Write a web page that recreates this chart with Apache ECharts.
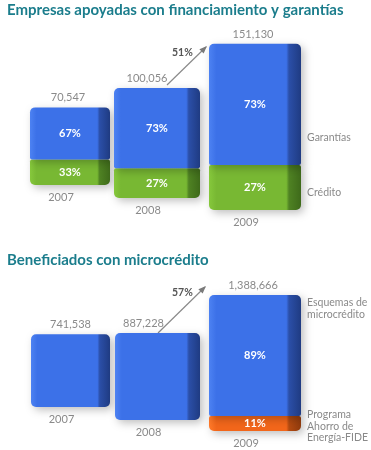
<!DOCTYPE html>
<html><head><meta charset="utf-8">
<script src="https://cdn.jsdelivr.net/npm/echarts@6/dist/echarts.min.js"></script>
<style>html,body{margin:0;padding:0;background:#fff}#c{width:371px;height:450px}</style>
</head><body><div id="c"></div>
<script>
// ---- data ----
const years = ['2007', '2008', '2009'];
const empresasTotal = [70547, 100056, 151130];
const garantiasPct = [67, 73, 73];
const creditoPct = [33, 27, 27];
const microTotal = [741538, 887228, 1388666];
const esquemasPct = [100, 100, 89];
const fidePct = [0, 0, 11];
const growthLabels = ['51%', '57%'];
const titles = ['Empresas apoyadas con financiamiento y garantías', 'Beneficiados con microcrédito'];

// ---- layout ----
const FONT = 'Lato';
const layout = [
  [[30, 80, 185], [114, 86, 198], [209, 92, 210]],
  [[31, 79, 407], [115, 85, 420], [209, 92, 431]]
];
const labelShift = [[-2, -10, -2], [0, -14, -2]];
const axisMax = [160000, 1500000];
const axisPx = [176, 147];

function grad(light, mid, dark, darker) {
  return new echarts.graphic.LinearGradient(0, 0, 1, 0, [
    { offset: 0, color: light }, { offset: 0.08, color: mid }, { offset: 0.84, color: mid },
    { offset: 0.87, color: dark }, { offset: 1, color: darker }
  ]);
}
const blue = grad('#4d82f2', '#3c71e8', '#2b4fa8', '#1f3b82');
const green = grad('#86c83c', '#78b833', '#4f8223', '#3e6a1a');
const orange = grad('#ff7a2a', '#f2661a', '#b34a10', '#8f3a0c');

const grids = [], xAxes = [], yAxes = [], series = [];
const fmt = v => v.toLocaleString('en-US');

for (let c = 0; c < 2; c++) {
  const totals = c === 0 ? empresasTotal : microTotal;
  const topPct = c === 0 ? garantiasPct : esquemasPct;
  const botPct = c === 0 ? creditoPct : fidePct;
  const botColor = c === 0 ? green : orange;
  for (let i = 0; i < 3; i++) {
    const [left, width, base] = layout[c][i];
    const g = grids.length;
    grids.push({ left: left, width: width, top: base - axisPx[c], height: axisPx[c] });
    xAxes.push({ gridIndex: g, type: 'category', data: [years[i]],
      axisLine: { show: false }, axisTick: { show: false },
      axisLabel: { color: '#8a8a8a', fontFamily: FONT, fontSize: 11, margin: 7, padding: [0, 18, 0, 0] } });
    yAxes.push({ gridIndex: g, type: 'value', min: 0, max: axisMax[c], show: false, splitLine: { show: false } });
    const botVal = totals[i] * botPct[i] / 100;
    const topVal = totals[i] * topPct[i] / 100;
    const breakdown = botPct[i] > 0;
    series.push({
      type: 'bar', xAxisIndex: g, yAxisIndex: g, stack: 's' + g, barWidth: '100%',
      data: [botVal], silent: true,
      itemStyle: { color: botColor, borderRadius: [2, 2, 5, 5],
        shadowColor: 'rgba(0,0,0,0.25)', shadowBlur: 8, shadowOffsetX: 3, shadowOffsetY: 3 },
      label: { show: breakdown, position: 'inside', formatter: botPct[i] + '%',
        color: '#fff', fontFamily: FONT, fontWeight: 'bold', fontSize: 11 }
    });
    series.push({
      type: 'bar', xAxisIndex: g, yAxisIndex: g, stack: 's' + g, barWidth: '100%',
      data: [topVal], silent: true,
      itemStyle: { color: blue, borderRadius: breakdown ? [5, 5, 2, 2] : 5,
        shadowColor: 'rgba(0,0,0,0.25)', shadowBlur: 8, shadowOffsetX: 3, shadowOffsetY: 3 },
      label: { show: breakdown, position: 'inside', formatter: topPct[i] + '%',
        color: '#fff', fontFamily: FONT, fontWeight: 'bold', fontSize: 11 }
    });
    // total label on top
    series.push({
      type: 'bar', xAxisIndex: g, yAxisIndex: g, stack: 's' + g, barWidth: '100%',
      data: [0], silent: true, itemStyle: { color: 'transparent' },
      label: { show: true, position: 'top', distance: 4, offset: [labelShift[c][i], 0], formatter: fmt(totals[i]),
        color: '#8a8a8a', fontFamily: FONT, fontSize: 11 }
    });
  }
}

const gray = '#8a8a8a';
const txt = (left, top, text, extra) => Object.assign({ type: 'text', left: left, top: top,
  style: Object.assign({ text: text, fill: gray, font: '10.5px ' + FONT, lineHeight: 11.5 }, extra || {}) });

function arrow(x1, y1, x2, y2) {
  const a = Math.atan2(y2 - y1, x2 - x1), L = 7, w = 0.45;
  return [
    { type: 'line', shape: { x1: x1, y1: y1, x2: x2, y2: y2 }, style: { stroke: '#8a8a8a', lineWidth: 1.2 } },
    { type: 'polygon', shape: { points: [[x2 + 1, y2 - 1],
      [x2 - L * Math.cos(a - w), y2 - L * Math.sin(a - w)],
      [x2 - L * Math.cos(a + w), y2 - L * Math.sin(a + w)]] }, style: { fill: '#7a7a7a' } }
  ];
}

const option = {
  animation: false,
  title: [
    { text: titles[0], left: 2, top: -2, textStyle: { color: '#1b7d8c', fontFamily: FONT, fontWeight: 'bold', fontSize: 15 } },
    { text: titles[1], left: 2, top: 248, textStyle: { color: '#1b7d8c', fontFamily: FONT, fontWeight: 'bold', fontSize: 15 } }
  ],
  grid: grids, xAxis: xAxes, yAxis: yAxes, series: series,
  graphic: [
    txt(307, 132, 'Garantías'),
    txt(307, 187, 'Crédito'),
    txt(307, 297, 'Esquemas de\nmicrocrédito'),
    txt(307, 409, 'Programa\nAhorro de\nEnergía-FIDE'),
    txt(172, 47, growthLabels[0], { fill: '#555', font: 'bold 10.5px ' + FONT }),
    txt(172, 287, growthLabels[1], { fill: '#555', font: 'bold 10.5px ' + FONT })
  ].concat(arrow(167, 85, 206, 47), arrow(158, 333, 205, 287))
};
echarts.init(document.getElementById('c'), null, { renderer: 'canvas' }).setOption(option);
</script></body></html>
